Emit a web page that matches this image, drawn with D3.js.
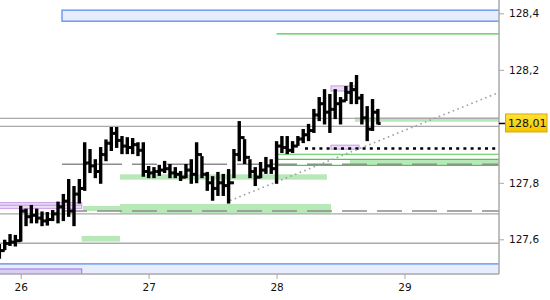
<!DOCTYPE html>
<html>
<head>
<meta charset="utf-8">
<script src="https://cdn.jsdelivr.net/npm/d3@7"></script>
<style>
body { margin: 0; background: #fff; }
svg { display: block; font-family: "DejaVu Sans", sans-serif; font-size: 10.5px; }
</style>
</head>
<body>
<script>
// hourly bars, first one at 25 Apr 20:00
var start = new Date(2022, 3, 25, 20, 0);

var highs = [127.58, 127.595, 127.615, 127.612, 127.715, 127.705, 127.718, 127.705, 127.695, 127.693,
  127.70, 127.73, 127.757, 127.81, 127.785, 127.81, 127.94, 127.916, 127.88, 127.923,
  127.95, 127.994, 127.994, 127.962, 127.958, 127.955, 127.94, 127.94, 127.856, 127.852,
  127.86, 127.874, 127.863, 127.852, 127.838, 127.863, 127.88, 127.94, 127.891, 127.835,
  127.82, 127.835, 127.828, 127.845, 127.916, 128.015, 127.951, 127.88, 127.852, 127.87,
  127.888, 127.88, 127.944, 127.962, 127.962, 127.944, 127.962, 127.987, 128.005, 128.058,
  128.10, 128.128, 128.111, 128.128, 128.10, 128.139, 128.153, 128.178, 128.111, 128.068,
  128.093, 128.058];

var lows = [127.535, 127.565, 127.58, 127.578, 127.595, 127.65, 127.66, 127.66, 127.65, 127.652,
  127.668, 127.66, 127.668, 127.683, 127.65, 127.73, 127.775, 127.838, 127.82, 127.80,
  127.88, 127.916, 127.927, 127.905, 127.905, 127.905, 127.898, 127.825, 127.82, 127.82,
  127.828, 127.838, 127.82, 127.82, 127.81, 127.82, 127.80, 127.802, 127.82, 127.775,
  127.74, 127.757, 127.757, 127.73, 127.82, 127.88, 127.87, 127.82, 127.792, 127.82,
  127.835, 127.835, 127.80, 127.909, 127.905, 127.909, 127.934, 127.944, 127.951, 127.98,
  128.022, 128.01, 127.98, 128.029, 128.01, 128.093, 128.082, 128.082, 128.01, 127.951,
  127.987, 128.01];

var closes = [127.56, 127.585, 127.59, 127.595, 127.70, 127.68, 127.685, 127.675, 127.665, 127.67,
  127.69, 127.715, 127.735, 127.70, 127.76, 127.78, 127.87, 127.86, 127.84, 127.90,
  127.94, 127.975, 127.95, 127.93, 127.925, 127.935, 127.915, 127.84, 127.835, 127.84,
  127.845, 127.85, 127.835, 127.83, 127.82, 127.845, 127.83, 127.90, 127.83, 127.80,
  127.78, 127.80, 127.79, 127.80, 127.90, 127.96, 127.89, 127.84, 127.82, 127.845,
  127.86, 127.85, 127.93, 127.925, 127.915, 127.93, 127.955, 127.97, 127.985, 128.04,
  128.08, 128.05, 128.06, 128.08, 128.09, 128.12, 128.13, 128.10, 128.03, 127.99,
  128.05, 128.01];

var lastPrice = 128.01;

// full width support/resistance levels
var grayLevels = [128.028, 128.0, 127.690, 127.586];
// dashed levels, start time
var dashLevels = [127.866, 127.700];
var dashFrom = "2022-04-26T07:45";
// green levels, start time
var greenLevels = [128.327, 127.901, 127.883, 127.862];
var greenFrom = "2022-04-28T00:00";
// dotted black level
var dotLevel = [127.921];
var dotFrom = "2022-04-28T05:20";
// trend line [time, price]
var trend = [["2022-04-27T15:16", 127.737], ["2022-04-29T17:21", 128.117]];

// zones: [from, to, top, bottom]
var greenZones = [
  ["2022-04-26T18:38", "2022-04-28T09:27", 127.830, 127.811],
  ["2022-04-26T18:38", "2022-04-28T10:13", 127.725, 127.692],
  ["2022-04-26T11:41", "2022-04-26T18:38", 127.718, 127.700],
  ["2022-04-26T11:26", "2022-04-26T18:38", 127.612, 127.592],
  ["2022-04-28T14:42", "2022-04-30T00:00", 128.032, 128.016],
  ["2022-04-28T13:46", "2022-04-30T00:00", 127.883, 127.862]
];
var lilacZones = [
  ["2022-04-25T12:00", "2022-04-26T11:26", 127.730, 127.720],
  ["2022-04-25T12:00", "2022-04-26T11:26", 127.720, 127.709],
  ["2022-04-28T10:13", "2022-04-28T14:54", 128.143, 128.125],
  ["2022-04-28T10:13", "2022-04-28T15:28", 127.933, 127.919]
];
var blueZones = [
  ["2022-04-26T07:45", "2022-04-30T00:00", 128.411, 128.372],
  ["2022-04-25T12:00", "2022-04-30T00:00", 127.513, 127.40]
];
var violetZones = [
  ["2022-04-25T12:00", "2022-04-26T11:26", 127.495, 127.40]
];

var dayTicks = ["2022-04-26", "2022-04-27", "2022-04-28", "2022-04-29"];
var priceTicks = [127.6, 127.8, 128.2, 128.4];

var W = 550, H = 300, plotW = 499, plotH = 274;
var parse = d3.timeParse("%Y-%m-%dT%H:%M");
var parseDay = d3.timeParse("%Y-%m-%d");

var x = d3.scaleTime()
    .domain([parseDay(dayTicks[0]), parseDay(dayTicks[3])])
    .range([20.7, 404.5]);

var y = d3.scaleLinear()
    .domain([127.6, 128.4])
    .range([239.3, 13.3]);

var locale = d3.formatLocale({decimal: ",", thousands: ".", grouping: [3], currency: ["", ""]});
var fmt = function(v) { return locale.format(",.2~f")(v); };

var svg = d3.select("body").append("svg")
    .attr("width", W)
    .attr("height", H);

svg.append("clipPath").attr("id", "clip")
  .append("rect").attr("x", 0).attr("y", 0).attr("width", plotW).attr("height", plotH);

var defs = svg.append("defs");
var grad = defs.append("linearGradient").attr("id", "gold")
    .attr("x1", 0).attr("y1", 0).attr("x2", 0).attr("y2", 1);
grad.append("stop").attr("offset", "0%").attr("stop-color", "#ffe23a");
grad.append("stop").attr("offset", "100%").attr("stop-color", "#f6c400");

var plot = svg.append("g").attr("clip-path", "url(#clip)");

function drawZones(list, fill, stroke, sw) {
  plot.selectAll(null)
      .data(list)
    .enter().append("rect")
      .attr("x", function(d) { return x(parse(d[0])); })
      .attr("y", function(d) { return y(d[2]); })
      .attr("width", function(d) { return x(parse(d[1])) - x(parse(d[0])); })
      .attr("height", function(d) { return y(d[3]) - y(d[2]); })
      .style("fill", fill)
      .style("stroke", stroke)
      .style("stroke-width", sw);
}

drawZones(blueZones, "#e7edfd", "#6e9cf0", 1.5);
drawZones(violetZones, "#d9cdf6", "#a884db", 1.2);
drawZones(greenZones, "#b7e8b7", "none", 0);
drawZones(lilacZones, "#ecdcf7", "#d0a8ea", 1.2);

function drawLevels(list, from, color, sw, dash) {
  plot.selectAll(null)
      .data(list)
    .enter().append("line")
      .attr("x1", from ? x(parse(from)) : 0)
      .attr("x2", plotW)
      .attr("y1", function(d) { return y(d); })
      .attr("y2", function(d) { return y(d); })
      .style("stroke", color)
      .style("stroke-width", sw)
      .style("stroke-dasharray", dash);
}

drawLevels(grayLevels, null, "#a9a9a9", 1.3, null);
drawLevels(dashLevels, dashFrom, "#8c8c8c", 1.5, "25,10");
drawLevels(greenLevels, greenFrom, "#4cc94c", 1.2, null);
drawLevels(dotLevel, dotFrom, "#000", 2.5, "3,4.2");

plot.append("line")
    .attr("x1", x(parse(trend[0][0])))
    .attr("y1", y(trend[0][1]))
    .attr("x2", x(parse(trend[1][0])))
    .attr("y2", y(trend[1][1]))
    .style("stroke", "#a0a0a0")
    .style("stroke-width", 1.6)
    .style("stroke-dasharray", "1.6,3.4");

// OHLC bars
var bars = highs.map(function(h, i) {
  return {
    t: d3.timeHour.offset(start, i),
    h: h, l: lows[i], c: closes[i],
    o: i > 0 ? closes[i - 1] : closes[i]
  };
});

var bar = plot.selectAll(".bar")
    .data(bars)
  .enter().append("g")
    .attr("class", "bar")
    .style("stroke", "#000");

bar.append("line")
    .attr("x1", function(d) { return x(d.t); })
    .attr("x2", function(d) { return x(d.t); })
    .attr("y1", function(d) { return y(d.h) - 1; })
    .attr("y2", function(d) { return y(d.l) + 1; })
    .style("stroke-width", 3.4);

bar.append("line")
    .attr("x1", function(d) { return x(d.t) - 2.8; })
    .attr("x2", function(d) { return x(d.t); })
    .attr("y1", function(d) { return y(d.o); })
    .attr("y2", function(d) { return y(d.o); })
    .style("stroke-width", 3);

bar.append("line")
    .attr("x1", function(d) { return x(d.t); })
    .attr("x2", function(d) { return x(d.t) + 2.8; })
    .attr("y1", function(d) { return y(d.c); })
    .attr("y2", function(d) { return y(d.c); })
    .style("stroke-width", 3);

// frame
svg.append("line")
    .attr("x1", plotW).attr("x2", plotW).attr("y1", 0).attr("y2", plotH)
    .style("stroke", "#a8a8a8").style("stroke-width", 1.5);
svg.append("line")
    .attr("x1", 0).attr("x2", plotW).attr("y1", plotH).attr("y2", plotH)
    .style("stroke", "#a8a8a8").style("stroke-width", 1.5);

var xAxis = d3.axisBottom(x)
    .tickValues(dayTicks.map(parseDay))
    .tickFormat(d3.timeFormat("%-d"))
    .tickSize(5)
    .tickPadding(5);

var gx = svg.append("g")
    .attr("transform", "translate(0," + plotH + ")")
    .call(xAxis);
gx.select(".domain").remove();
gx.selectAll(".tick line").style("stroke", "#a8a8a8");
gx.selectAll("text").style("fill", "#111").style("font-size", "10.5px")
    .style("font-family", "DejaVu Sans, sans-serif");

var yAxis = d3.axisRight(y)
    .tickValues(priceTicks)
    .tickFormat(fmt)
    .tickSize(5)
    .tickPadding(5);

var gy = svg.append("g")
    .attr("transform", "translate(" + plotW + ",0)")
    .call(yAxis);
gy.select(".domain").remove();
gy.selectAll(".tick line").style("stroke", "#a8a8a8");
gy.selectAll("text").style("fill", "#111").style("font-size", "10.5px")
    .style("font-family", "DejaVu Sans, sans-serif");

// last price marker
var ly = y(lastPrice);
svg.append("line")
    .attr("x1", plotW).attr("x2", plotW + 6)
    .attr("y1", ly).attr("y2", ly)
    .style("stroke", "#000").style("stroke-width", 1.5);
svg.append("rect")
    .attr("x", 505.5).attr("y", ly - 9.5)
    .attr("width", 41.5).attr("height", 18)
    .style("fill", "url(#gold)")
    .style("stroke", "#d4aa00");
svg.append("text")
    .attr("x", 508)
    .attr("y", ly)
    .attr("dy", ".35em")
    .style("fill", "#111")
    .style("font-size", "11px")
    .text(fmt(lastPrice));
</script>
</body>
</html>
